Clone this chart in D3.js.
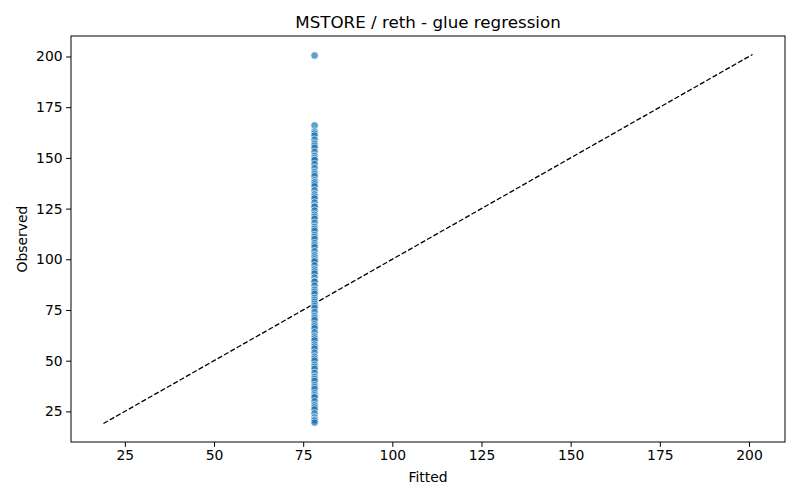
<!DOCTYPE html>
<html>
<head>
<meta charset="utf-8">
<script src="https://cdn.jsdelivr.net/npm/d3@7"></script>
<style>
  body { margin: 0; background: #fff; }
  text { font-family: "DejaVu Sans", sans-serif; fill: #000; }
  .tick text { font-size: 13.9px; }
  .tick line, .domain { stroke: #000; }
</style>
</head>
<body>
<svg id="chart" width="800" height="500"></svg>
<script>
// chart values
const title = "MSTORE / reth - glue regression"
const fitted_value = 78.2
const observed = [
  200.5, 166, 163, 162, 161, 159, 157, 156, 155, 153, 151, 150, 149, 149,
  147, 145, 143, 142, 141, 139, 138, 138, 137, 136, 134, 132, 131, 130,
  128, 126, 126, 124, 122, 121, 120, 118, 116, 115, 114, 112, 111, 110,
  108, 107, 106, 104, 102, 101, 100, 99, 99, 97, 95, 94, 93, 91, 89, 89,
  87, 85, 84, 83, 81, 80, 79, 78, 77, 76, 74, 72, 71, 70, 68, 67, 66,
  64, 62, 61, 60, 58, 57, 56, 54, 52, 51, 50, 48, 47, 46, 44, 42, 41,
  40, 38, 37, 36, 34, 33, 32, 32, 30, 28, 27, 26, 24, 22, 21, 20.5, 19.5
]
const line_ends = [19, 201]
const x_ticks = [25, 50, 75, 100, 125, 150, 175, 200]
const y_ticks = [25, 50, 75, 100, 125, 150, 175, 200]

const margin = { top: 36, right: 15, bottom: 58, left: 71 }
const svg = d3.select("#chart")
const width = 800 - margin.left - margin.right
const height = 500 - margin.top - margin.bottom

const x = d3.scaleLinear().domain([9.9, 210.1]).range([0, width])
const y = d3.scaleLinear().domain([9.9, 210.1]).range([height, 0])

const g = svg.append("g").attr("transform", `translate(${margin.left},${margin.top})`)

// identity line
g.append("line")
  .attr("x1", x(line_ends[0])).attr("y1", y(line_ends[0]))
  .attr("x2", x(line_ends[1])).attr("y2", y(line_ends[1]))
  .attr("stroke", "#000").attr("stroke-width", 1.3)
  .attr("stroke-dasharray", "5.1,2.2")

g.append("g").selectAll("circle")
  .data(observed).enter()
  .append("circle")
  .attr("cx", x(fitted_value))
  .attr("cy", d => y(d))
  .attr("r", 3.7)
  .attr("fill", "#1f77b4")
  .attr("fill-opacity", 0.7)
  .attr("stroke", "#fff")
  .attr("stroke-width", 0.6)

g.append("g")
  .attr("transform", `translate(0,${height})`)
  .call(d3.axisBottom(x).tickValues(x_ticks).tickSize(4.9).tickPadding(3.5).tickFormat(d3.format("d")))

g.append("g")
  .call(d3.axisLeft(y).tickValues(y_ticks).tickSize(4.9).tickPadding(3.5).tickFormat(d3.format("d")))

g.selectAll(".domain").remove()
g.append("rect")
  .attr("width", width).attr("height", height)
  .attr("fill", "none").attr("stroke", "#000").attr("stroke-width", 1)

svg.append("text")
  .attr("x", margin.left + width / 2).attr("y", 28)
  .attr("text-anchor", "middle").style("font-size", "16.7px")
  .text(title)

svg.append("text")
  .attr("x", margin.left + width / 2).attr("y", 482)
  .attr("text-anchor", "middle").style("font-size", "13.9px")
  .text("Fitted")

svg.append("text")
  .attr("transform", `translate(27,${margin.top + height / 2}) rotate(-90)`)
  .attr("text-anchor", "middle").style("font-size", "13.9px")
  .text("Observed")
</script>
</body>
</html>
